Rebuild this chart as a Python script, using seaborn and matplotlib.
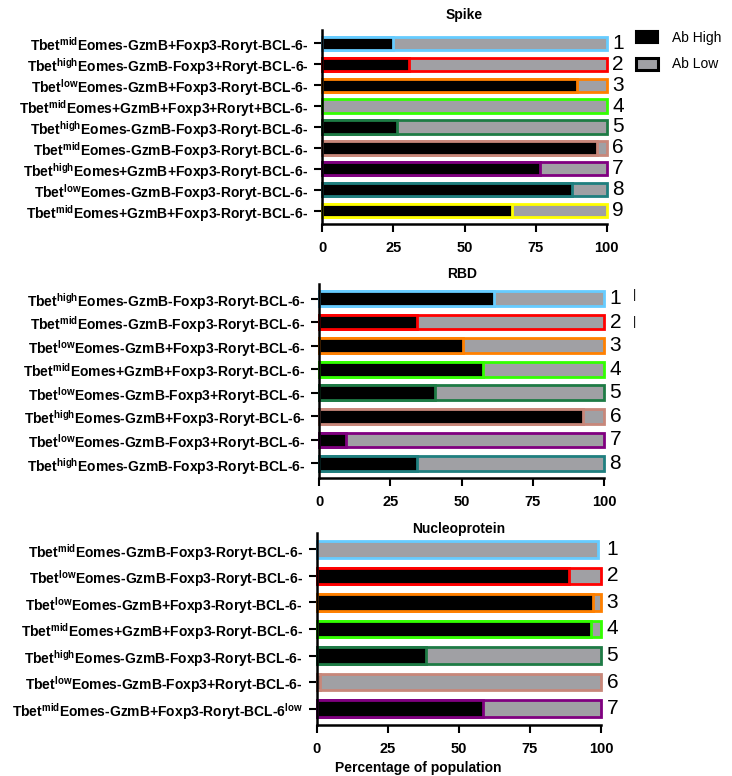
import matplotlib
matplotlib.use("Agg")
import matplotlib.pyplot as plt
import numpy as np
import pandas as pd
import seaborn as sns
from matplotlib.patches import Patch

# ---- data -------------------------------------------------------------
spike_labels = [
    r"Tbet$^{\mathbf{mid}}$Eomes-GzmB+Foxp3-Roryt-BCL-6-",
    r"Tbet$^{\mathbf{high}}$Eomes-GzmB-Foxp3+Roryt-BCL-6-",
    r"Tbet$^{\mathbf{low}}$Eomes-GzmB+Foxp3-Roryt-BCL-6-",
    r"Tbet$^{\mathbf{mid}}$Eomes+GzmB+Foxp3+Roryt+BCL-6-",
    r"Tbet$^{\mathbf{high}}$Eomes-GzmB-Foxp3-Roryt-BCL-6-",
    r"Tbet$^{\mathbf{mid}}$Eomes-GzmB-Foxp3-Roryt-BCL-6-",
    r"Tbet$^{\mathbf{high}}$Eomes+GzmB+Foxp3-Roryt-BCL-6-",
    r"Tbet$^{\mathbf{low}}$Eomes-GzmB-Foxp3-Roryt-BCL-6-",
    r"Tbet$^{\mathbf{mid}}$Eomes+GzmB+Foxp3-Roryt-BCL-6-",
]
spike_high = [25.0, 30.5, 89.4, 0.0, 26.4, 96.5, 76.5, 87.7, 66.6]
spike_total = [100, 100, 100, 100, 100, 100, 100, 100, 100]

rbd_labels = [
    r"Tbet$^{\mathbf{high}}$Eomes-GzmB-Foxp3-Roryt-BCL-6-",
    r"Tbet$^{\mathbf{mid}}$Eomes-GzmB-Foxp3-Roryt-BCL-6-",
    r"Tbet$^{\mathbf{low}}$Eomes-GzmB+Foxp3-Roryt-BCL-6-",
    r"Tbet$^{\mathbf{mid}}$Eomes+GzmB+Foxp3-Roryt-BCL-6-",
    r"Tbet$^{\mathbf{low}}$Eomes-GzmB-Foxp3+Roryt-BCL-6-",
    r"Tbet$^{\mathbf{high}}$Eomes-GzmB+Foxp3-Roryt-BCL-6-",
    r"Tbet$^{\mathbf{low}}$Eomes-GzmB-Foxp3+Roryt-BCL-6-",
    r"Tbet$^{\mathbf{high}}$Eomes-GzmB-Foxp3-Roryt-BCL-6-",
]
rbd_high = [61.5, 34.4, 50.6, 57.6, 40.6, 92.5, 9.4, 34.4]
rbd_total = [100, 100, 100, 100, 100, 100, 100, 100]

np_labels = [
    r"Tbet$^{\mathbf{mid}}$Eomes-GzmB-Foxp3-Roryt-BCL-6-",
    r"Tbet$^{\mathbf{low}}$Eomes-GzmB-Foxp3-Roryt-BCL-6-",
    r"Tbet$^{\mathbf{low}}$Eomes-GzmB+Foxp3-Roryt-BCL-6-",
    r"Tbet$^{\mathbf{mid}}$Eomes+GzmB+Foxp3-Roryt-BCL-6-",
    r"Tbet$^{\mathbf{high}}$Eomes-GzmB-Foxp3-Roryt-BCL-6-",
    r"Tbet$^{\mathbf{low}}$Eomes-GzmB-Foxp3+Roryt-BCL-6-",
    r"Tbet$^{\mathbf{mid}}$Eomes-GzmB+Foxp3-Roryt-BCL-6$^{\mathbf{low}}$",
]
np_high = [0.0, 88.9, 97.3, 96.4, 38.4, 1.0, 58.6]
np_total = [99, 100, 100, 100, 100, 100, 100]

row_colors = ["#66CCFF", "#FF0000", "#FF8000", "#33FF00", "#1E7B45",
              "#C8877A", "#800080", "#1F7F7F", "#FFFF00"]
legend_labels = ["Ab High", "Ab Low"]
x_ticks = [0, 25, 50, 75, 100]

HIGH_COLOR = "#000000"
LOW_COLOR = "#A0A0A4"

# ---- style ------------------------------------------------------------
sns.set_style("ticks")
plt.rcParams["font.family"] = ["Liberation Sans", "DejaVu Sans"]
plt.rcParams["mathtext.fontset"] = "custom"
plt.rcParams["mathtext.rm"] = "Liberation Sans:bold"
plt.rcParams["mathtext.bf"] = "Liberation Sans:bold"
for key in ("text.color", "axes.labelcolor", "xtick.color", "ytick.color",
            "axes.edgecolor"):
    plt.rcParams[key] = "black"

fig = plt.figure(figsize=(7.32, 7.76), dpi=100)
W, H = 732.0, 776.0


def make_axes(left, right, top, bottom):
    return fig.add_axes([left / W, 1 - bottom / H, (right - left) / W, (bottom - top) / H])


def draw_panel(ax, title, labels, high, total, title_pad):
    n = len(labels)
    df = pd.DataFrame({
        "row": [str(i + 1) for i in range(n)],
        "high": high,
        "total": total,
    })
    order = list(df["row"])
    sns.barplot(data=df, x="total", y="row", order=order, orient="h",
                color=LOW_COLOR, saturation=1, width=0.62, errorbar=None,
                ax=ax)
    sns.barplot(data=df, x="high", y="row", order=order, orient="h",
                color=HIGH_COLOR, saturation=1, width=0.62, errorbar=None,
                ax=ax)
    for k, p in enumerate(ax.patches):
        p.set_edgecolor(row_colors[k % n])
        p.set_linewidth(2.0)
        p.set_clip_on(False)

    # numbers to the right of each bar
    for i in range(n):
        ax.annotate(str(i + 1), xy=(100, i), xytext=(4, 0),
                    textcoords="offset points", ha="left", va="center",
                    fontsize=15, color="black", annotation_clip=False)

    ax.set_xlim(0, 100)
    ax.set_ylim(n - 1 + 0.62, -0.62)
    ax.set_xticks(x_ticks)
    ax.set_xticklabels([str(t) for t in x_ticks], fontsize=10.5, fontweight="bold")
    ax.set_yticks(range(n))
    ax.set_yticklabels(labels, fontsize=10, fontweight="bold")
    ax.tick_params(axis="both", length=6, width=1.5, color="black")
    ax.tick_params(axis="x", pad=6.5)
    ax.tick_params(axis="y", pad=4)
    ax.set_xlabel("")
    ax.set_ylabel("")
    ax.set_title(title, fontsize=10, fontweight="bold", pad=title_pad, y=1.0)
    sns.despine(ax=ax)
    for s in ("left", "bottom"):
        ax.spines[s].set_color("black")
        ax.spines[s].set_linewidth(1.8)


ax1 = make_axes(322.3, 606.7, 30, 224)
ax2 = make_axes(319.3, 604.0, 284, 478)
ax3 = make_axes(316.7, 601.0, 533, 725)

draw_panel(ax1, "Spike", spike_labels, spike_high, spike_total, 8)
draw_panel(ax2, "RBD", rbd_labels, rbd_high, rbd_total, 4)
draw_panel(ax3, "Nucleoprotein", np_labels, np_high, np_total, 0)

ax3.set_xlabel("Percentage of population", fontsize=10, fontweight="bold")
ax3.xaxis.set_label_coords((418 - 316.7) / (601 - 316.7), -(761 - 725) / (725 - 533))

# small vertical marks beside the first two RBD rows
for yy in (295, 322):
    fig.text(634 / W, 1 - yy / H, "|", fontsize=9, ha="center", va="center")

handles = [
    Patch(facecolor=HIGH_COLOR, edgecolor=HIGH_COLOR, linewidth=1.5),
    Patch(facecolor=LOW_COLOR, edgecolor="black", linewidth=2.2),
]
fig.legend(handles, legend_labels, loc="upper left",
           bbox_to_anchor=(636 / W, 1 - 31 / H), frameon=False,
           fontsize=10, handlelength=1.55, handleheight=0.95,
           handletextpad=1.05, labelspacing=0.9, borderpad=0,
           borderaxespad=0)

fig.savefig("out.png", dpi=100)
